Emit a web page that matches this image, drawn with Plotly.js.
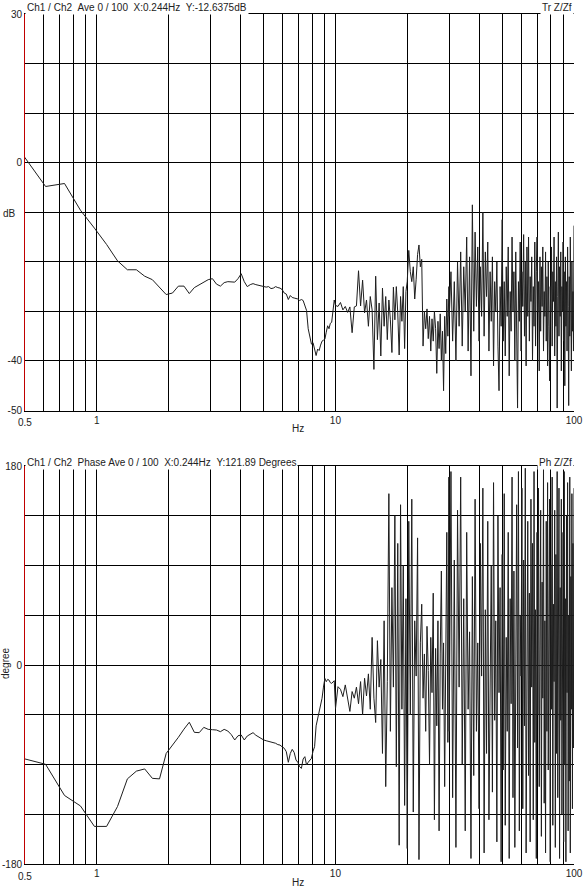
<!DOCTYPE html>
<html><head><meta charset="utf-8">
<script src="https://cdn.plot.ly/plotly-3.0.1.min.js"></script>
<style>html,body{margin:0;padding:0;background:#fff}#chart{width:583px;height:887px}</style>
</head><body><div id="chart"></div>
<script>
// Frequency bins (Hz)
const freqHz = [
0.488,0.610,0.732,0.854,0.977,1.099,1.221,1.343,1.465,1.587,
1.709,1.831,1.953,2.075,2.197,2.319,2.441,2.563,2.686,2.808,
2.930,3.052,3.174,3.296,3.418,3.540,3.662,3.784,3.906,4.028,
4.150,4.272,4.395,4.517,4.639,4.761,4.883,5.005,5.127,5.249,
5.371,5.493,5.615,5.737,5.859,5.981,6.104,6.226,6.348,6.470,
6.592,6.714,6.836,6.958,7.080,7.202,7.324,7.446,7.568,7.690,
7.812,7.935,8.057,8.179,8.301,8.423,8.545,8.667,8.789,8.911,
9.033,9.155,9.277,9.399,9.521,9.644,9.766,9.888,10.01,
10.25,10.5,10.75,11,11.25,11.5,11.75,12,12.25,12.5,
12.75,13,13.25,13.5,13.75,14,14.25,14.5,14.75,15,
15.25,15.5,15.75,16,16.25,16.5,16.75,17,17.25,17.5,
17.75,18,18.25,18.5,18.75,19,19.25,19.5,19.75,20,
20.3,20.6,20.9,21.2,21.5,21.8,22.1,22.4,22.7,23,
23.3,23.6,23.9,24.2,24.5,24.8,25.1,25.4,25.7,26,
26.3,26.6,26.9,27.2,27.5,27.8,28.1,28.4,28.7,29,
29.3,29.6,29.9,
30,30.5,31,31.5,32,32.5,33,33.5,34,34.5,
35,35.5,36,36.5,37,37.5,38,38.5,39,39.5,
40,40.5,41,41.5,42,42.5,43,43.5,44,44.5,
45,45.5,46,46.5,47,47.5,48,48.5,49,49.5,
50,50.5,51,51.5,52,52.5,53,53.5,54,54.5,
55,55.5,56,56.5,57,57.5,58,58.5,59,59.5,
60,60.5,61,61.5,62,62.5,63,63.5,64,64.5,
65,65.5,66,66.5,67,67.5,68,68.5,69,69.5,
70,70.5,71,71.5,72,72.5,73,73.5,74,74.5,
75,75.5,76,76.5,77,77.5,78,78.5,79,79.5,
80,80.5,81,81.5,82,82.5,83,83.5,84,84.5,
85,85.5,86,86.5,87,87.5,88,88.5,89,89.5,
90,90.5,91,91.5,92,92.5,93,93.5,94,94.5,
95,95.5,96,96.5,97,97.5,98,98.5,99,99.5,
100];

// Transfer magnitude Tr Z/Zf (dB)
const magDb = [
1.7,-4.8,-4.2,-9.6,-13.2,-16.5,-19.8,-21.6,-21.6,-22.9,
-23.6,-25.2,-26.6,-26.3,-24.9,-24.9,-26.4,-25.2,-24.6,-24.1,
-23.6,-23.4,-24.5,-24.9,-24.2,-24.0,-24.1,-24.1,-23.4,-22.4,
-24.0,-25.0,-24.6,-24.4,-24.6,-24.7,-24.8,-24.9,-25.1,-25.0,
-25.4,-25.3,-25.0,-25.2,-25.3,-25.6,-26.3,-26.5,-27.6,-26.8,
-27.2,-27.3,-27.4,-27.5,-27.8,-27.6,-27.8,-29.0,-29.8,-33.5,
-35.2,-36.6,-36.3,-37.8,-38.9,-37.6,-37.9,-36.8,-36.0,-35.8,
-35.6,-34.2,-32.9,-33.5,-32.4,-32.2,-30.1,-27.7,-28.8,
-29.0,-28.2,-29.7,-29.0,-30.2,-29.1,-34.3,-29.1,-28.9,-21.8,
-28.9,-23.7,-30.3,-27.7,-33.0,-27.0,-29.7,-41.7,-22.9,-35.7,
-28.3,-39.0,-25.3,-33.0,-27.0,-35.7,-27.7,-31.7,-38.3,-25.1,
-31.7,-25.0,-30.3,-38.8,-27.0,-32.0,-25.0,-37.5,-26.0,-24.0,
-17.7,-22.0,-24.0,-21.0,-27.5,-23.5,-18.5,-16.6,-21.0,-19.5,
-37.0,-30.0,-33.5,-29.5,-35.5,-31.0,-38.0,-31.5,-36.0,-30.0,
-33.5,-42.5,-32.0,-37.5,-30.5,-40.0,-34.0,-46.0,-31.0,-38.5,
-27.5,-35.0,-25.0,
-31,-22,-36,-24,-40,-20,-33,-18,-37,-21,
-30,-15,-38,-19,-43,-8.5,-34,-14,-29,-17,
-36,-21,-31,-10,-35,-18,-27,-16,-38,-22,
-32,-19,-41,-24,-30,-20,-37,-46,-25,-33,
-11.5,-36,-24,-39,-21,-31,-17,-43,-26,-34,
-15,-30,-22,-40,-18,-35,-49.5,-24,-32,-16,
-38,-22,-29,-14.5,-35,-20,-41,-17,-31,-15,
-36,-23,-28,-19,-40,-25,-33,-16,-37,-22,
-15,-30,-24,-42,-19,-34,-21,-29,-17,-38,
-26,-31,-18,-36,-23,-41,-20,-33,-44,-25,
-30,-17,-37,-22,-28,-15,-39,-24,-33,-19,
-49.5,-27,-14,-35,-21,-31,-18,-42,-25,-30,
-16,-36,-22,-45,-19,-33,-24,-38,-17,-29,
-49,-23,-35,-15,-31,-42,-20,-34,-26,-38,
-12.7];

// Phase Ph Z/Zf (degrees)
const phaseDeg = [
-84.4,-89.8,-118,-127.5,-146,-146,-128,-103,-96,-94,
-102.5,-103,-80,-73,-65.4,-58,-51.8,-60.9,-61.2,-56.4,
-58.2,-58.5,-58.8,-60.3,-58.2,-59.7,-63,-67.8,-64,-63.3,
-67.8,-64.2,-62.5,-61.2,-63.5,-65,-66.5,-67.8,-68.5,-69,
-69.5,-70,-70.8,-72,-72.4,-74,-75.3,-78.4,-88,-80,
-76.3,-79,-85.9,-88,-92,-93.5,-85,-82.9,-90.4,-88,
-86,-84.4,-78,-73.9,-55,-48.2,-43.7,-38,-30.1,-20,
-12.1,-15.1,-13,-13.6,-16,-16.6,-15,-14.2,-39.2,
-19.6,-22,-28.6,-18,-31,-42,-24,-30,-20,-35,
-15,-45,-12,-28,-8,-40,25,-30,-52,22,
-20,5,-80,40,-110,-15,155,-60,70,-20,
135,-92,110,-163,145,-40,90,-127,60,-166,
130,-45,150,-133,40,-10,115,-176,20,55,
-30,10,-60,35,-5,-90,25,-25,65,-140,
15,-55,40,-150,10,85,-40,20,-110,5,
120,-70,170,
-60,175,-120,95,-165,140,-20,170,-90,60,
-150,120,-40,30,-175,80,-100,150,-60,20,
-130,110,-10,160,-170,50,-80,130,-140,0,
90,-115,165,-50,40,-160,135,-25,70,-178,
100,-95,155,-145,25,-60,120,-175,60,-35,
170,-120,85,-165,10,145,-75,175,-150,45,
-10,160,-130,95,-55,178,-170,30,130,-100,
65,-160,150,-20,110,-140,175,-70,50,-175,
120,-45,160,-110,15,140,-155,75,-30,178,
-125,40,-170,130,-60,165,-95,20,150,-178,
90,-40,170,-145,55,-15,140,-165,100,-80,
175,-120,35,160,-175,70,-50,150,-135,5,
120,-160,175,-90,60,-178,135,-25,165,-150,
45,-105,170,-170,80,-40,155,-130,110,-75,
160];

// Axis ticks / grid
const gridFreqs = [0.5,0.6,0.7,0.8,0.9,1,2,3,4,5,6,7,8,9,10,20,30,40,50,60,70,80,90,100];
const freqTickText = ['','','','','','1','','','','','','','','','10','','','','','','','','','100'];
const dbTickVals = [-50,-40,-30,-20,-10,0,10,20,30];
const dbTickText = ['-50','-40','','','','0','','','30'];
const degTickVals = [-180,-135,-90,-45,0,45,90,135,180];
const degTickText = ['-180','','','','0','','','','180'];

const FONT = 'Liberation Sans, Arial, sans-serif';
const tf = {family: FONT, size: 10, color: '#222'};

const lineStyle = {color: '#1e1e1e', width: 1};
const traces = [
  {x: freqHz, y: magDb, xaxis: 'x', yaxis: 'y', type: 'scatter', mode: 'lines', line: lineStyle, hoverinfo: 'skip'},
  {x: freqHz, y: phaseDeg, xaxis: 'x2', yaxis: 'y2', type: 'scatter', mode: 'lines', line: lineStyle, hoverinfo: 'skip'}
];

function xAxis(anchor) {
  return {type: 'log', range: [Math.log10(0.5), 2], anchor: anchor, domain: [0, 1],
    tickvals: gridFreqs, ticktext: freqTickText, ticks: '', showgrid: true,
    gridcolor: '#000', gridwidth: 1, showline: true, linecolor: '#000', linewidth: 1,
    mirror: true, zeroline: false, tickfont: tf, fixedrange: true};
}
function yAxis(anchor, dom, rng, vals, txt) {
  return {range: rng, anchor: anchor, domain: dom, tickvals: vals, ticktext: txt,
    ticks: '', showgrid: true, gridcolor: '#000', gridwidth: 1, showline: true,
    linecolor: '#c00000', linewidth: 1, zeroline: false, tickfont: tf, fixedrange: true};
}

const PY = v => (864 - v) / 850;       // pixel row -> paper y
const PX = v => (v - 25) / 549;        // pixel column -> paper x
const ann = (text, x, y, xa, extra) => Object.assign({text: text, xref: 'paper', yref: 'paper',
  x: x, y: y, xanchor: xa, yanchor: 'middle', showarrow: false, font: tf}, extra || {});

const layout = {
  width: 583, height: 887,
  margin: {l: 25, r: 9, t: 14, b: 23},
  paper_bgcolor: '#fff', plot_bgcolor: '#fff',
  showlegend: false,
  xaxis: xAxis('y'),
  yaxis: yAxis('x', [0.5335, 1], [-50, 30], dbTickVals, dbTickText),
  xaxis2: xAxis('y2'),
  yaxis2: yAxis('x2', [0, 0.4682], [-180, 180], degTickVals, degTickText),
  annotations: [
    ann('Ch1 / Ch2\u00a0\u00a0Ave 0 / 100\u00a0\u00a0X:0.244Hz\u00a0\u00a0Y:-12.6375dB', 0, PY(8), 'left', {bgcolor: '#fff'}),
    ann('Tr Z/Zf', 1, PY(8), 'right', {bgcolor: '#fff'}),
    ann('dB', PX(9), PY(213), 'center'),
    ann('0.5', 0, PY(422), 'center'),
    ann('Hz', PX(298), PY(428), 'center'),
    ann('Ch1 / Ch2\u00a0\u00a0Phase Ave 0 / 100\u00a0\u00a0X:0.244Hz\u00a0\u00a0Y:121.89 Degrees', 0, PY(462), 'left', {bgcolor: '#fff'}),
    ann('Ph Z/Zf', 1, PY(462), 'right', {bgcolor: '#fff'}),
    ann('degree', PX(5), PY(663), 'center', {textangle: -90}),
    ann('0.5', 0, PY(876), 'center'),
    ann('Hz', PX(298), PY(882), 'center')
  ]
};

Plotly.newPlot('chart', traces, layout, {staticPlot: true, displayModeBar: false});
</script>
</body></html>
